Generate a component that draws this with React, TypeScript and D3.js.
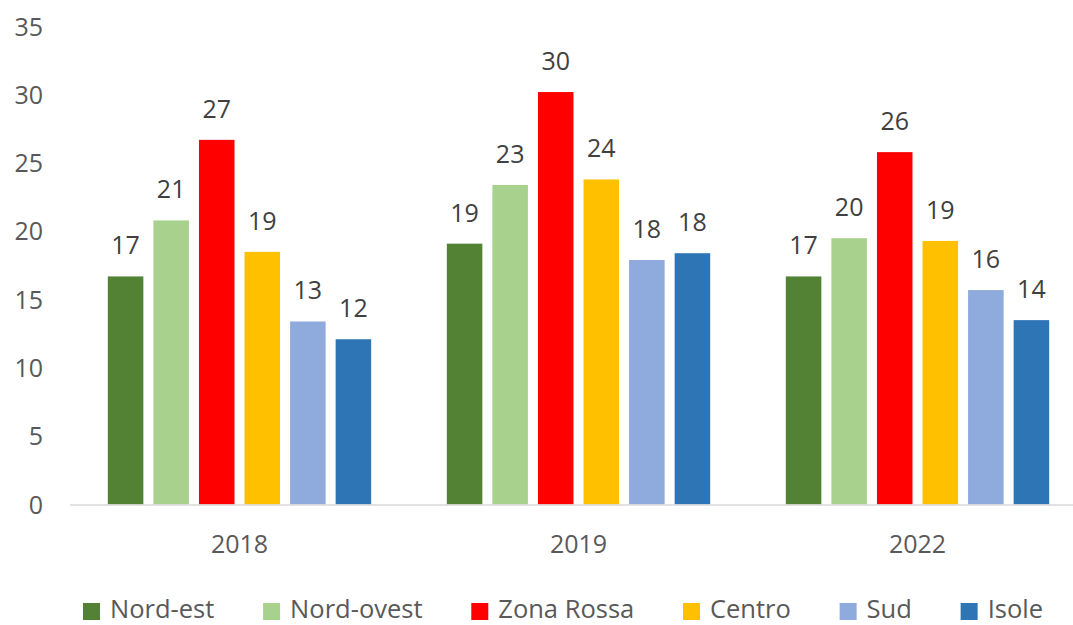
import React, { useEffect, useRef } from 'react';
import * as d3 from 'd3';

const WIDTH = 1073;
const HEIGHT = 625;

// years on the x axis
const years = ['2018', '2019', '2022'];
// one series per area
const areas = ['Nord-est', 'Nord-ovest', 'Zona Rossa', 'Centro', 'Sud', 'Isole'];
const colors = ['#548235', '#A9D18E', '#FF0000', '#FFC000', '#8FAADC', '#2E75B6'];

// values, by year, in the order of areas
const values2018 = [16.7, 20.8, 26.7, 18.5, 13.4, 12.1];
const values2019 = [19.1, 23.4, 30.2, 23.8, 17.9, 18.4];
const values2022 = [16.7, 19.5, 25.8, 19.3, 15.7, 13.5];

const yTicks = [0, 5, 10, 15, 20, 25, 30, 35];

const FONT = '"Open Sans", sans-serif';

export default function App() {
  const svgRef = useRef<SVGSVGElement>(null);

  useEffect(() => {
    document.body.style.margin = '0';
    if (!svgRef.current) return;
    const svg = d3.select(svgRef.current);
    svg.selectAll('*').remove();

    const rows = [values2018, values2019, values2022];

    const x0 = d3.scaleBand().domain(years).range([70, 1087]);
    const x1 = d3.scaleBand()
      .domain(areas)
      .range([0, x0.bandwidth()])
      .paddingInner(0.22)
      .paddingOuter(0.83);
    const y = d3.scaleLinear().domain([0, 35]).range([504.5, 26.5]);

    // y tick labels (no gridlines in the original)
    svg.append('g')
      .selectAll('text')
      .data(yTicks)
      .join('text')
      .attr('x', 43)
      .attr('y', d => y(d))
      .attr('dy', '0.36em')
      .attr('text-anchor', 'end')
      .attr('font-family', FONT)
      .attr('font-size', 25)
      .attr('fill', '#595959')
      .text(d => d);

    // bars
    const groups = svg.append('g')
      .selectAll('g')
      .data(years)
      .join('g')
      .attr('transform', d => `translate(${x0(d)},0)`);

    groups.selectAll('rect')
      .data((d, i) => areas.map((a, j) => ({ area: a, value: rows[i][j], color: colors[j] })))
      .join('rect')
      .attr('x', d => x1(d.area)!)
      .attr('y', d => y(d.value))
      .attr('width', x1.bandwidth())
      .attr('height', d => y(0) - y(d.value))
      .attr('fill', d => d.color);

    groups.selectAll('text')
      .data((d, i) => areas.map((a, j) => ({ area: a, value: rows[i][j] })))
      .join('text')
      .attr('x', d => x1(d.area)! + x1.bandwidth() / 2)
      .attr('y', d => y(d.value) - 22)
      .attr('text-anchor', 'middle')
      .attr('font-family', FONT)
      .attr('font-size', 25)
      .attr('fill', '#404040')
      .text(d => Math.round(d.value));

    // x axis line
    svg.append('line')
      .attr('x1', 70)
      .attr('x2', 1087)
      .attr('y1', y(0) + 0.5)
      .attr('y2', y(0) + 0.5)
      .attr('stroke', '#d9d9d9')
      .attr('stroke-width', 1.5);

    svg.append('g')
      .selectAll('text')
      .data(years)
      .join('text')
      .attr('x', d => x0(d)! + x0.bandwidth() / 2)
      .attr('y', 553)
      .attr('text-anchor', 'middle')
      .attr('font-family', FONT)
      .attr('font-size', 25)
      .attr('fill', '#595959')
      .text(d => d);

    // legend, spread between the first square and the end of the last label
    const legend = svg.append('g');
    const items = legend.selectAll('g')
      .data(areas)
      .join('g');
    items.append('rect')
      .attr('width', 17)
      .attr('height', 17)
      .attr('y', 603)
      .attr('fill', (d, i) => colors[i]);
    const labels = items.append('text')
      .attr('x', 27)
      .attr('y', 618)
      .attr('font-family', FONT)
      .attr('font-size', 25.5)
      .attr('fill', '#595959')
      .text(d => d);

    const widths: number[] = [];
    labels.each(function () {
      widths.push(27 + (this as SVGTextElement).getComputedTextLength());
    });
    const start = 83;
    const end = 1043;
    const gap = (end - start - d3.sum(widths)) / (areas.length - 1);
    let cx = start;
    items.attr('transform', (d, i) => {
      const t = `translate(${cx},0)`;
      cx += widths[i] + gap;
      return t;
    });
  }, []);

  return (
    <svg ref={svgRef} width={WIDTH} height={HEIGHT} style={{ display: 'block', background: '#fff' }} />
  );
}
